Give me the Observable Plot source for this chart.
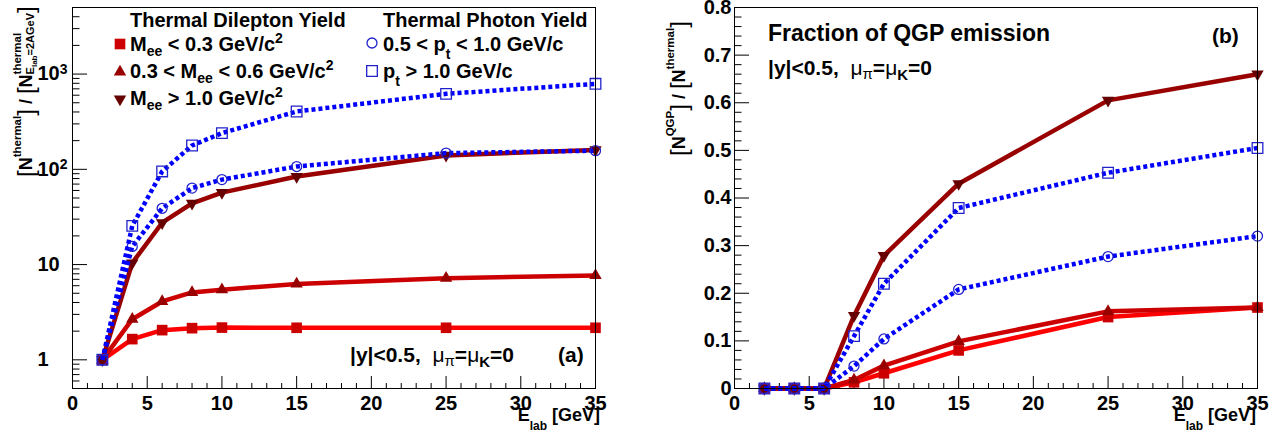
<!DOCTYPE html>
<html><head><meta charset="utf-8">
<script src="https://cdn.jsdelivr.net/npm/d3@7"></script>
<script src="https://cdn.jsdelivr.net/npm/@observablehq/plot@0.6"></script>
<style>
body{margin:0;background:#fff;}
#wrap{position:relative;width:1275px;height:432px;display:flex;background:#fff;}
#wrap > svg.overlay{position:absolute;left:0;top:0;pointer-events:none;}
</style></head><body>
<div id="wrap"></div>
<script>
// ---------- data ----------
const elab = [2, 4, 6, 8, 10, 15, 25, 35];
// panel (a): thermal yield normalised to E_lab = 2 AGeV
const yieldMeeLow  = [1, 1.65, 2.05, 2.15, 2.18, 2.17, 2.17, 2.17];
const yieldMeeMid  = [1, 2.67, 4.1, 5.1, 5.45, 6.25, 7.2, 7.7];
const yieldMeeHigh = [1, 10.4, 27.5, 44, 57, 84, 140, 160];
const yieldPtLow   = [1, 15.5, 39, 63.5, 78, 107, 148, 157];
const yieldPtHigh  = [1, 25.5, 95, 178, 240, 405, 620, 790];
// panel (b): fraction of QGP emission
const fracMeeLow  = [0, 0, 0, 0.013, 0.032, 0.080, 0.150, 0.170];
const fracMeeMid  = [0, 0, 0, 0.018, 0.048, 0.099, 0.162, 0.170];
const fracMeeHigh = [0, 0, 0, 0.153, 0.279, 0.430, 0.605, 0.660];
const fracPtLow   = [0, 0, 0, 0.047, 0.104, 0.208, 0.277, 0.320];
const fracPtHigh  = [0, 0, 0, 0.110, 0.220, 0.379, 0.453, 0.505];
// ticks
const xTicks = [0, 5, 10, 15, 20, 25, 30, 35];
const xTickLabels = ["0", "5", "10", "15", "20", "25", "30", "35"];
const yTicksLog = [1, 10, 100, 1000];
const yTickLabelsLog = ["1", "10", "10^2", "10^3"];
const yTicksLin = [0, 0.1, 0.2, 0.3, 0.4, 0.5, 0.6, 0.7, 0.8];
const yTickLabelsLin = ["0", "0.1", "0.2", "0.3", "0.4", "0.5", "0.6", "0.7", "0.8"];

// ---------- styles ----------
const FONT = "'Liberation Sans', Arial, Helvetica, sans-serif";
const styles = {
  meeLow:  {line: "#ff0000", fill: "#cc0000", stroke: "none", symbol: "square", r: 6, rotate: 0},
  meeMid:  {line: "#cc0000", fill: "#990000", stroke: "none", symbol: "triangle", r: 4.6, rotate: 0},
  meeHigh: {line: "#990000", fill: "#660000", stroke: "none", symbol: "triangle", r: 4.6, rotate: 180},
  ptLow:   {line: "#0000ff", fill: "none", stroke: "#2222cc", symbol: "circle", r: 5, rotate: 0, dash: "4,3"},
  ptHigh:  {line: "#0000ff", fill: "none", stroke: "#2222cc", symbol: "square", r: 6, rotate: 0, dash: "4,3"}
};
const panelA = {meeLow: yieldMeeLow, meeMid: yieldMeeMid, meeHigh: yieldMeeHigh, ptLow: yieldPtLow, ptHigh: yieldPtHigh};
const panelB = {meeLow: fracMeeLow, meeMid: fracMeeMid, meeHigh: fracMeeHigh, ptLow: fracPtLow, ptHigh: fracPtHigh};
const order = ["meeLow", "meeMid", "meeHigh", "ptLow", "ptHigh"];

function seriesMarks(panel) {
  const marks = [];
  for (const k of order) {
    const st = styles[k];
    const rows = elab.map((x, i) => ({x, y: panel[k][i]}));
    const lineOpts = {x: "x", y: "y", stroke: st.line, strokeWidth: 4.5, strokeLinejoin: "miter", strokeLinecap: "butt"};
    if (st.dash) lineOpts.strokeDasharray = st.dash;
    marks.push(Plot.line(rows, lineOpts));
    marks.push(Plot.dot(rows, {x: "x", y: "y", symbol: st.symbol, r: st.r, fill: st.fill, stroke: st.stroke, strokeWidth: 1.3, rotate: st.rotate}));
  }
  return marks;
}

const xMinor = d3.range(1, 35).filter(v => v % 5 !== 0);
const yMinorLog = [];
for (const base of [0.1, 1, 10, 100, 1000]) for (let m = 2; m <= 9; m++) {
  const v = +(base * m).toPrecision(3);
  if (v > 0.5 && v < 5000) yMinorLog.push(v);
}
const yMinorLin = d3.range(0, 41).filter(k => k % 5 !== 0).map(k => +(k * 0.02).toFixed(2));

const svgStyle = `font-family:${FONT};font-size:20px;font-weight:bold;color:#000;background:#fff;overflow:visible;`;

function xAxes() {
  return [
    Plot.axisX(xMinor, {tickSize: -5, tickFormat: () => "", label: null}),
    Plot.axisX(xTicks, {tickSize: -12, tickPadding: 19, tickFormat: d => xTickLabels[xTicks.indexOf(d)], label: null, fontSize: 20, fontWeight: "bold"})
  ];
}

const left = Plot.plot({
  width: 640, height: 432,
  marginLeft: 72, marginRight: 45, marginTop: 7, marginBottom: 44,
  style: svgStyle,
  x: {domain: [0, 35]},
  y: {type: "log", domain: [0.5, 5000]},
  marks: [
    ...xAxes(),
    Plot.axisY(yMinorLog, {tickSize: -7.5, tickFormat: () => "", label: null}),
    Plot.axisY(yTicksLog, {tickSize: -15, tickPadding: 50, textAnchor: "start", tickFormat: d => yTickLabelsLog[yTicksLog.indexOf(d)], label: null, fontSize: 20, fontWeight: "bold"}),
    ...seriesMarks(panelA),
    Plot.frame({stroke: "#000", strokeWidth: 1})
  ]
});

const right = Plot.plot({
  width: 635, height: 432,
  marginLeft: 94, marginRight: 18, marginTop: 7, marginBottom: 44,
  style: svgStyle,
  x: {domain: [0, 35]},
  y: {domain: [0, 0.8]},
  marks: [
    ...xAxes(),
    Plot.axisY(yMinorLin, {tickSize: -7.5, tickFormat: () => "", label: null}),
    Plot.axisY(yTicksLin, {tickSize: -15, tickPadding: 18, tickFormat: d => yTickLabelsLin[yTicksLin.indexOf(d)], label: null, fontSize: 20, fontWeight: "bold"}),
    ...seriesMarks(panelB),
    Plot.frame({stroke: "#000", strokeWidth: 1})
  ]
});

const wrap = document.getElementById("wrap");
wrap.appendChild(left);
wrap.appendChild(right);

// superscripts in tick labels like "10^2"
for (const t of left.querySelectorAll("text")) {
  const s = t.textContent;
  if (s.includes("^")) {
    const [b, e] = s.split("^");
    t.textContent = "";
    const ns = "http://www.w3.org/2000/svg";
    const t1 = document.createElementNS(ns, "tspan"); t1.textContent = b; t.appendChild(t1);
    const t2 = document.createElementNS(ns, "tspan"); t2.textContent = e;
    t2.setAttribute("dy", "-0.45em"); t2.setAttribute("font-size", "14"); t.appendChild(t2);
  }
}

// ---------- overlay: legends, titles, annotations ----------
const overlay = d3.select(wrap).append("svg").attr("class", "overlay")
  .attr("width", 1275).attr("height", 432).attr("viewBox", "0 0 1275 432");

function rich(x0, y0, pieces, {anchor = "start", rotate = 0, size = 20, weight = "bold"} = {}) {
  const g = overlay.append("g").attr("transform", `translate(${x0},${y0}) rotate(${rotate})`);
  const inner = g.append("g");
  let cx = 0, markStart = 0, markEnd = 0;
  for (const p of pieces) {
    let start = cx;
    if (p.stack) start = markStart;
    if (p.after) start = Math.max(cx, markEnd);
    start += (p.dx || 0);
    const t = inner.append("text")
      .attr("x", start).attr("y", p.dy || 0)
      .attr("font-family", p.family || FONT)
      .attr("font-size", p.size || size)
      .attr("font-weight", p.weight || weight)
      .attr("fill", "#000")
      .style("white-space", "pre")
      .text(p.t);
    const w = t.node().getComputedTextLength();
    if (p.mark) { markStart = start; markEnd = start + w; }
    cx = start + w;
  }
  const total = Math.max(cx, markEnd);
  if (anchor === "end") inner.attr("transform", `translate(${-total},0)`);
  if (anchor === "middle") inner.attr("transform", `translate(${-total / 2},0)`);
  return g;
}

function legendSymbol(cx, cy, key) {
  const st = styles[key];
  const type = {square: d3.symbolSquare, triangle: d3.symbolTriangle, circle: d3.symbolCircle}[st.symbol];
  overlay.append("path")
    .attr("d", d3.symbol(type, Math.PI * st.r * st.r)())
    .attr("transform", `translate(${cx},${cy}) rotate(${st.rotate})`)
    .attr("fill", st.fill).attr("stroke", st.stroke).attr("stroke-width", 1.3);
}

const SUB = 14;
// Dilepton legend
rich(130, 27, [{t: "Thermal Dilepton Yield"}]);
legendSymbol(120, 44, "meeLow");
rich(130, 51, [{t: "M"}, {t: "ee", size: SUB, dy: 5}, {t: " < 0.3 GeV/c", dy: 0}, {t: "2", size: SUB, dy: -8}]);
legendSymbol(120, 72, "meeMid");
rich(130, 78, [{t: "0.3 < M"}, {t: "ee", size: SUB, dy: 5}, {t: " < 0.6 GeV/c"}, {t: "2", size: SUB, dy: -8}]);
legendSymbol(120, 99, "meeHigh");
rich(130, 105, [{t: "M"}, {t: "ee", size: SUB, dy: 5}, {t: " > 1.0 GeV/c"}, {t: "2", size: SUB, dy: -8}]);
// Photon legend
rich(383, 27, [{t: "Thermal Photon Yield"}]);
legendSymbol(372, 43, "ptLow");
rich(383, 51, [{t: "0.5 < p"}, {t: "t", size: SUB, dy: 8}, {t: " < 1.0 GeV/c"}]);
legendSymbol(372, 71, "ptHigh");
rich(383, 78, [{t: "p"}, {t: "t", size: SUB, dy: 8}, {t: " > 1.0 GeV/c"}]);

// panel (a) annotation
const muPieces = [
  {t: "|y|<0.5,  "},
  {t: "\u03bc", weight: "normal"}, {t: "\u03c0", weight: "normal", size: 15, dy: 4},
  {t: "=", dy: 0},
  {t: "\u03bc", weight: "normal"}, {t: "K", size: 15, dy: 5},
  {t: "=0", dy: 0}
];
rich(350, 362, muPieces, {size: 21});
rich(558, 362, [{t: "(a)"}], {size: 21});

// panel (b) annotations
rich(768, 41, [{t: "Fraction of QGP emission"}], {size: 23});
rich(768, 75, muPieces, {size: 21});
rich(1212, 43, [{t: "(b)"}], {size: 21});

// x axis titles
const xTitle = [{t: "E"}, {t: "lab", size: 12, dy: 9}, {t: " [GeV]", dy: 0}];
rich(600, 421, xTitle, {anchor: "end", size: 18});
rich(1256, 421, xTitle, {anchor: "end", size: 18});

// y axis titles (rotated)
const BR = {size: 24, weight: "normal"};
rich(32, 177, [
  {t: "[", ...BR, dy: 2}, {t: "N", dy: 0}, {t: "thermal", size: 11.5, dy: -11}, {t: "]", ...BR, dy: 2},
  {t: " / ", dy: 0}, {t: "[", ...BR, dy: 2}, {t: "N", dy: 0},
  {t: "thermal", size: 11.5, dy: -11, mark: true},
  {t: "E", size: 11, dy: 2, stack: true}, {t: "lab", size: 8, dy: 5}, {t: "=2AGeV", size: 11, dy: 2},
  {t: "]", ...BR, dy: 2, after: true}
], {rotate: -90, size: 18});

rich(685, 156, [
  {t: "[", ...BR, dy: 2}, {t: "N", dy: 0}, {t: "QGP", size: 11.5, dy: -11}, {t: "]", ...BR, dy: 2},
  {t: " / ", dy: 0}, {t: "[", ...BR, dy: 2}, {t: "N", dy: 0},
  {t: "thermal", size: 11.5, dy: -11}, {t: "]", ...BR, dy: 2}
], {rotate: -90, size: 18});
</script>
</body></html>
